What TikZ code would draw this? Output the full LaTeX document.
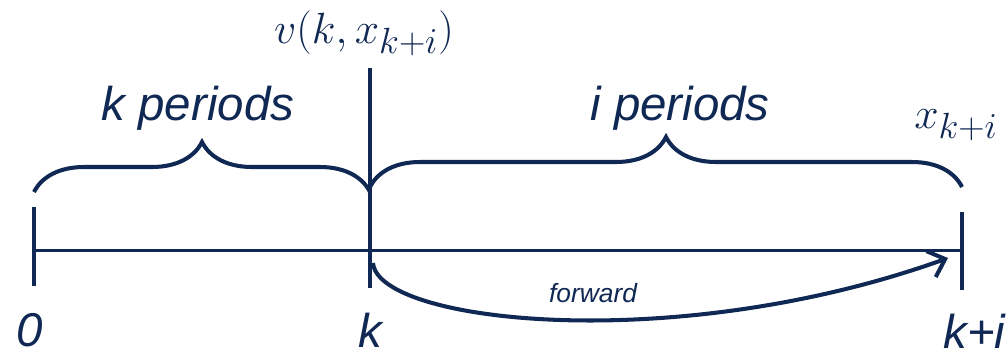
\documentclass[tikz,border=0pt]{standalone}
\usepackage{amsmath,amssymb}
\usepackage{fontspec}
\setmainfont{Liberation Sans}
\usepackage{tikz}
\usetikzlibrary{arrows.meta,positioning,decorations.pathreplacing,calc}
\definecolor{tlnavy}{RGB}{16,40,84}

\begin{document}
\begin{tikzpicture}[
  axis/.style={draw=tlnavy, line width=1.7pt},
  tick/.style={draw=tlnavy, line width=2.3pt},
  span/.style={draw=tlnavy, line width=2.3pt, decorate, decoration={brace, amplitude=1cm}},
  lbl/.style={text=tlnavy, font=\fontsize{27}{32}\selectfont\itshape, inner sep=0pt},
  mlbl/.style={text=tlnavy, font=\fontsize{29}{34}\selectfont, inner sep=0pt},
  fwd/.style={draw=tlnavy, line width=2.3pt, -{Straight Barb[length=3mm,width=5.5mm,line width=2.3pt]}}]
\useasboundingbox (0,0) rectangle (20.16,7.12);
% time line
\coordinate (t0) at (0.68,2.12);
\coordinate (tk) at (7.40,2.12);
\coordinate (tki) at (19.24,2.12);
\draw[axis] (t0) -- (tki);
\draw[tick] (0.68,2.98) -- (0.68,1.40);
\draw[tick] (7.40,5.76) -- (7.40,1.36);
\draw[tick] (19.24,2.88) -- (19.24,1.32);
% braces
\draw[span] (0.68,3.28) -- (7.40,3.28);
\draw[span] (7.40,3.38) -- (19.24,3.38);
\node[lbl] (kper) at (3.96,4.96) {k periods};
\node[lbl] (iper) at (13.60,4.96) {i periods};
% values
\node[mlbl, font=\fontsize{31}{36}\selectfont, anchor=base] (vk) at (7.28,6.26) {$v(k,x_{k+i})$};
\node[mlbl, anchor=base west] (xki) at (18.28,4.56) {$x_{k+i}$};
% period labels
\node[lbl] (l0) at (0.60,0.52) {0};
\node[lbl] (lk) at (7.40,0.52) {k};
\node[lbl, anchor=west] (lki) at (18.86,0.50) {k+i};
% forward
\coordinate (fs) at (7.46,1.86);
\coordinate (fe) at (18.96,1.96);
\draw[fwd] (fs) .. controls (7.56,0.66) and (13.5,0.0) .. (fe);
\node[text=tlnavy, font=\fontsize{15}{18}\selectfont\itshape] (fw) at (11.86,1.26) {forward};
\end{tikzpicture}
\end{document}
